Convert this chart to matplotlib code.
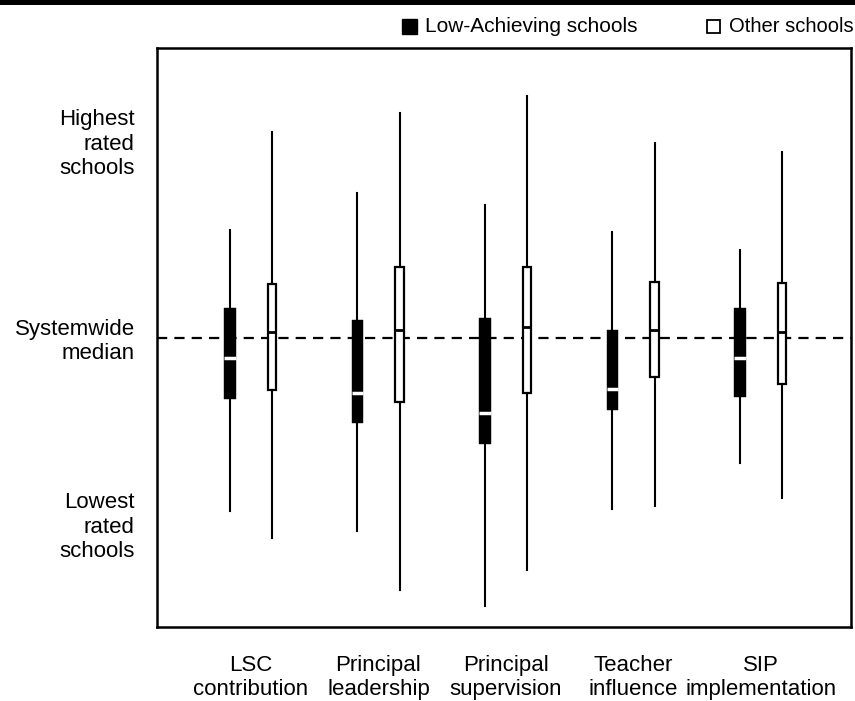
import matplotlib
matplotlib.use("Agg")
import matplotlib.pyplot as plt
from matplotlib.patches import Rectangle
import numpy as np

plt.rcParams['font.family'] = ['Liberation Sans', 'DejaVu Sans']

# measures, position relative to the systemwide median (0)
categories = ["LSC\ncontribution", "Principal\nleadership", "Principal\nsupervision",
              "Teacher\ninfluence", "SIP\nimplementation"]

# low-achieving schools: whisker low, q1, median, q3, whisker high
low_whislo = [-1.73, -1.93, -2.68, -1.71, -1.25]
low_q1 = [-0.61, -0.85, -1.06, -0.72, -0.59]
low_med = [-0.20, -0.55, -0.75, -0.51, -0.20]
low_q3 = [0.30, 0.18, 0.20, 0.08, 0.30]
low_whishi = [1.08, 1.45, 1.33, 1.06, 0.88]

# other schools
oth_whislo = [-2.00, -2.52, -2.32, -1.68, -1.60]
oth_q1 = [-0.52, -0.64, -0.55, -0.39, -0.46]
oth_med = [0.06, 0.08, 0.11, 0.08, 0.06]
oth_q3 = [0.54, 0.71, 0.71, 0.56, 0.55]
oth_whishi = [2.06, 2.25, 2.42, 1.95, 1.86]

ylabels = ["Highest\nrated\nschools", "Systemwide\nmedian", "Lowest\nrated\nschools"]
ylabel_pos = [1.975, 0.0, -1.855]

def stats(lo, q1, med, q3, hi):
    return [dict(whislo=a, q1=b, med=c, q3=d, whishi=e, fliers=[])
            for a, b, c, d, e in zip(lo, q1, med, q3, hi)]

fig = plt.figure(figsize=(8.55, 7.01), dpi=100)
ax = fig.add_axes([157 / 855, 1 - 627 / 701, 694 / 855, 579 / 701])

x = np.arange(len(categories))
off = 0.165

ax.axhline(0, color="black", lw=1.6, dashes=(4.6, 3.2), zorder=1)

ax.bxp(stats(low_whislo, low_q1, low_med, low_q3, low_whishi), positions=x - off,
       widths=0.088, patch_artist=True, showcaps=False, showfliers=False,
       boxprops=dict(facecolor="black", edgecolor="black", lw=0.3),
       medianprops=dict(color="white", lw=2.5, solid_capstyle="butt", zorder=5),
       whiskerprops=dict(color="black", lw=1.5), manage_ticks=False)
ax.bxp(stats(oth_whislo, oth_q1, oth_med, oth_q3, oth_whishi), positions=x + off,
       widths=0.07, patch_artist=True, showcaps=False, showfliers=False,
       boxprops=dict(facecolor="white", edgecolor="black", lw=1.6),
       medianprops=dict(color="black", lw=2.0, solid_capstyle="butt"),
       whiskerprops=dict(color="black", lw=1.5), manage_ticks=False)

ax.set_xlim(-0.737, 4.706)
ax.set_ylim(-2.895, 2.895)
ax.set_xticks(x)
ax.set_xticklabels(categories, fontsize=16, linespacing=1.2)
ax.set_yticks(ylabel_pos)
ax.set_yticklabels(ylabels, fontsize=16, linespacing=1.2)
for lab in ax.get_yticklabels():
    lab.set_multialignment("right")
ax.tick_params(axis="both", length=0)
ax.tick_params(axis="x", pad=20)
ax.tick_params(axis="y", pad=16)
for s in ax.spines.values():
    s.set_linewidth(1.8)

# legend
fig.patches.append(Rectangle((402 / 855, 1 - 34 / 701), 15 / 855, 15 / 701,
                             transform=fig.transFigure, facecolor="black",
                             edgecolor="black", lw=1))
fig.text(425 / 855, 1 - 26 / 701, "Low-Achieving schools", fontsize=15,
         ha="left", va="center")
fig.patches.append(Rectangle((707 / 855, 1 - 33 / 701), 13 / 855, 13 / 701,
                             transform=fig.transFigure, facecolor="white",
                             edgecolor="black", lw=1.3))
fig.text(729 / 855, 1 - 26 / 701, "Other schools", fontsize=14.5,
         ha="left", va="center")

# top rule
fig.patches.append(Rectangle((0, 1 - 5 / 701), 1, 5 / 701, transform=fig.transFigure,
                             facecolor="black", edgecolor="none"))

fig.savefig("out.png", dpi=100)
